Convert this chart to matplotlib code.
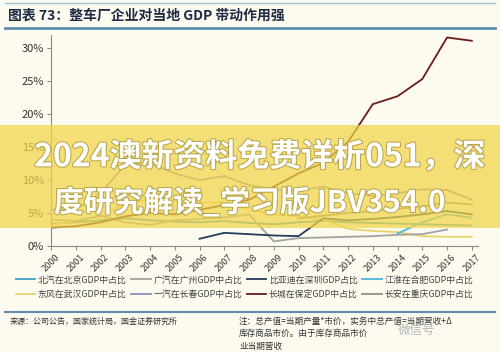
import matplotlib.pyplot as plt
import matplotlib.patheffects as pe
from matplotlib.patches import Rectangle
from matplotlib.lines import Line2D

plt.rcParams['font.family'] = ['Noto Sans CJK SC', 'DejaVu Sans']

years = list(range(2000, 2018))

# share of local GDP, % (many points hidden under the banner)
beiqi = [3.4, 3.6, 3.9, 4.2, 3.9, 3.7, 3.6, 3.8, 3.5, 3.3, 3.6, 3.8, 3.6, 3.5, 3.4, 3.3, 3.2, 3.1]
guangqi = [4.0, 3.8, 4.6, 3.6, 3.2, 3.9, 4.1, 4.3, 4.8, 0.7, 1.2, 1.3, 1.4, 1.5, 1.7, 1.8, 2.5, None]
dongfeng = [3.2, 3.8, 4.5, 6.5, 7.0, 6.8, 6.6, 6.6, 5.5, 4.8, 4.5, 4.0, 2.6, 2.3, 2.1, 1.5, 1.4, 1.4]
yiqi = [5.5, 5.6, 8.0, 12.3, 12.6, 11.0, 10.0, 10.6, 9.2, 8.6, 8.4, 9.0, 8.0, 7.6, 8.0, 8.6, 8.5, 7.0]
byd = [None] * 6 + [1.1, 2.0, 1.8, 1.6, 1.5, 4.2, 3.9, 4.1, 4.4, 4.8, 5.3, 4.8]
jianghuai = [None] * 14 + [1.9, 3.6, 4.8, 4.3]
changcheng = [2.8, 3.0, 3.6, 4.5, 5.0, 4.8, 5.5, 6.2, 7.0, 9.0, 11.0, 12.6, 15.8, 21.5, 22.7, 25.3, 31.6, 31.1]
changan = [None] * 10 + [4.2, 4.6, 5.0, 5.3, 5.6, 6.0, 6.6, 6.3]

series = [
    ('北汽在北京GDP中占比', beiqi, '#3f9fc4'),
    ('东风在武汉GDP中占比', dongfeng, '#e6d46a'),
    ('广汽在广州GDP中占比', guangqi, '#a3a3a3'),
    ('一汽在长春GDP中占比', yiqi, '#8e8fb8'),
    ('比亚迪在深圳GDP占比', byd, '#243b5c'),
    ('长城在保定GDP中占比', changcheng, '#6a1b1f'),
    ('江淮在合肥GDP中占比', jianghuai, '#4fb6dc'),
    ('长安在重庆GDP中占比', changan, '#8f8f86'),
]

note_lines = ['注：总产值=当期产量*市价，实务中总产值=当期营收+Δ',
              '库存商品市价。由于库存商品市价',
              '业当期营收']

bg = '#fdfaf0'
fig = plt.figure(figsize=(5, 3.52), dpi=100, facecolor=bg)
ax = fig.add_axes([0.102, 0.301, 0.854, 0.60], facecolor=bg)

for name, vals, col in series:
    ax.plot(years, [v / 100 if v is not None else None for v in vals],
            color=col, lw=1.3, label=name)

ax.set_xlim(2000, 2017.25)
ax.set_ylim(0, 0.32)
ax.set_xticks(years)
ax.set_xticklabels([str(y) for y in years], rotation=45, fontsize=6.5, color='#333333')
ax.set_yticks([0, 0.05, 0.10, 0.15, 0.20, 0.25, 0.30])
ax.set_yticklabels(['0%', '5%', '10%', '15%', '20%', '25%', '30%'], fontsize=8, color='#333333')
for s in ['top', 'right']:
    ax.spines[s].set_visible(False)
for s in ['left', 'bottom']:
    ax.spines[s].set_color('#8a8a8a')
ax.tick_params(axis='both', length=3, color='#8a8a8a', pad=2)

handles, labels = ax.get_legend_handles_labels()
fig.legend(handles, labels, ncol=4, loc='upper left', bbox_to_anchor=(0.015, 0.24),
           frameon=False, fontsize=6.4, handlelength=2.2, handletextpad=0.3,
           columnspacing=0.5, labelspacing=0.6, labelcolor='#444444')

# title and rules
fig.text(0.016, 0.955, '图表 73：整车厂企业对当地 GDP 带动作用强', fontsize=10,
         fontweight='bold', color='#1d2b45', va='center')
fig.add_artist(Line2D([0.01, 0.99], [0.992, 0.992], color='#9cc3d5', lw=1))
fig.add_artist(Line2D([0.01, 0.99], [0.921, 0.921], color='#5f8fae', lw=2))
fig.add_artist(Line2D([0.01, 0.99], [0.113, 0.113], color='#5f8fae', lw=1.5))

fig.text(0.02, 0.088, '来源：公司公告，国家统计局，国金证券研究所', fontsize=5.8,
         color='#333333', va='center')
for i, line in enumerate(note_lines):
    fig.text(0.478, 0.088 - i * 0.036, line, fontsize=6.2, color='#333333', va='center')
fig.text(0.795, 0.06, '微信号', fontsize=9, color='#b5b5b5', va='center')

# yellow banner overlay
fig.add_artist(Rectangle((0, 0.352), 1, 0.293, transform=fig.transFigure,
                         facecolor='#f1d548', alpha=0.72, edgecolor='none', zorder=10))
shadow = [pe.withStroke(linewidth=1.5, foreground='#b9a64a')]
fig.text(0.52, 0.553, '2024澳新资料免费详析051，深', fontsize=23, fontweight='bold',
         color='white', ha='center', va='center', zorder=11, path_effects=shadow)
fig.text(0.50, 0.425, '度研究解读_学习版JBV354.0', fontsize=21.5, fontweight='bold',
         color='white', ha='center', va='center', zorder=11, path_effects=shadow)

fig.savefig('out.png', dpi=100, facecolor=bg)
